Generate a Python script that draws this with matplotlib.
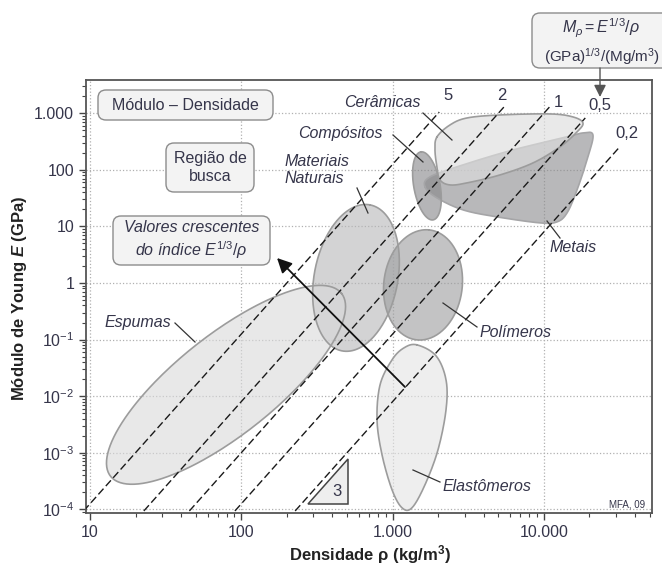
import numpy as np
import matplotlib
matplotlib.use('Agg')
import matplotlib.pyplot as plt
from matplotlib.patches import FancyBboxPatch, Polygon
from matplotlib.ticker import LogLocator, NullFormatter

plt.rcParams['font.family'] = ['Liberation Sans', 'DejaVu Sans']
plt.rcParams['mathtext.fontset'] = 'custom'
plt.rcParams['mathtext.rm'] = 'Liberation Sans'
plt.rcParams['mathtext.it'] = 'Liberation Sans:italic'
plt.rcParams['mathtext.bf'] = 'Liberation Sans:bold'
plt.rcParams['mathtext.bfit'] = 'Liberation Sans:italic:bold'

# ----------------------------------------------------------------
#  Data
# ----------------------------------------------------------------
# guide lines  M = E^(1/3)/rho  ->  E = (M*rho/1000)^3   (E in GPa, rho in kg/m3)
index_values = [5, 2, 1, 0.5, 0.2]
index_labels = ['5', '2', '1', '0,5', '0,2']
line_top_E = [1050, 1290, 1290, 826, 254]      # where each dashed line stops

x_ticks = [10, 100, 1000, 10000]
x_ticklabels = ['10', '100', '1.000', '10.000']
y_ticks = [1e-4, 1e-3, 1e-2, 1e-1, 1, 10, 100, 1000]
y_ticklabels = ['$10^{-4}$', '$10^{-3}$', '$10^{-2}$', '$10^{-1}$',
                '1', '10', '100', '1.000']

# elliptical families: centre (log10 rho, log10 E) and two conjugate
# semi-axes (in decades)
espumas_c = (1.899, -1.800)
espumas_u = (0.763, 1.617)
espumas_v = (0.205, -0.689)

naturais_c = (2.758, 0.090)
naturais_u = (0.093, 1.290)
naturais_v = (0.271, -0.141)

polimeros_c = (3.201, -0.034)
polimeros_u = (0.040, 0.972)
polimeros_v = (0.258, -0.071)

compositos_c = (3.227, 1.716)
compositos_u = (-0.040, 0.601)
compositos_v = (0.086, 0.035)

# irregular families: outline (log10 rho, log10 E)
elast_lrho = [3.161, 3.287, 3.353, 3.353, 3.300, 3.214, 3.128,
              3.062, 2.996, 2.930, 2.897, 2.917, 2.996, 3.075]
elast_lE = [-1.094, -1.288, -1.712, -2.242, -2.949, -3.567, -3.974,
            -3.974, -3.655, -3.037, -2.419, -1.800, -1.359, -1.147]

ceram_lrho = [3.293, 3.379, 3.492, 3.710, 4.040, 4.192, 4.258, 4.219,
              4.106, 3.928, 3.710, 3.492, 3.379, 3.313, 3.293, 3.280]
ceram_lE = [2.581, 2.793, 2.917, 2.970, 2.988, 2.935, 2.829, 2.670,
            2.405, 2.122, 1.910, 1.769, 1.733, 1.822, 2.051, 2.352]

metal_lrho = [3.214, 3.247, 3.465, 3.796, 4.126, 4.258, 4.324, 4.291,
              4.219, 4.153, 4.087, 3.974, 3.690, 3.465, 3.293]
metal_lE = [1.698, 1.875, 2.087, 2.352, 2.564, 2.652, 2.617, 2.228,
            1.645, 1.239, 1.080, 1.062, 1.168, 1.292, 1.504]

# slope triangle (slope 3)
tri_rho = [276, 507]
tri_E_base = 1.25e-4


# ----------------------------------------------------------------
#  Helpers
# ----------------------------------------------------------------
def ellipse_pts(c, u, v, n=240):
    t = np.linspace(0, 2 * np.pi, n)
    lx = c[0] + u[0] * np.cos(t) + v[0] * np.sin(t)
    ly = c[1] + u[1] * np.cos(t) + v[1] * np.sin(t)
    return 10 ** lx, 10 ** ly


def closed_spline(lx, ly, n=24):
    """Closed Catmull-Rom outline through the given log-space points."""
    P = np.column_stack([lx, ly])
    k = len(P)
    t = np.linspace(0, 1, n, endpoint=False)[:, None]
    segs = []
    for i in range(k):
        p0, p1, p2, p3 = P[i - 1], P[i], P[(i + 1) % k], P[(i + 2) % k]
        seg = 0.5 * (2 * p1 + (-p0 + p2) * t
                     + (2 * p0 - 5 * p1 + 4 * p2 - p3) * t ** 2
                     + (-p0 + 3 * p1 - 3 * p2 + p3) * t ** 3)
        segs.append(seg)
    out = np.vstack(segs + [segs[0][:1]])
    return 10 ** out[:, 0], 10 ** out[:, 1]


def bubble(ax, x, y, face, edge='#9c9c9c', alpha=0.6, z=2):
    ax.fill(x, y, facecolor=face, edgecolor='none', alpha=alpha, zorder=z)
    ax.plot(x, y, color=edge, lw=1.2, zorder=z + 0.1)


# ----------------------------------------------------------------
#  Figure
# ----------------------------------------------------------------
fig = plt.figure(figsize=(6.62, 5.68), dpi=100)
ax = fig.add_axes([86 / 662, 1 - 512.7 / 568, 566 / 662, 432.7 / 568])
ax.set_xscale('log')
ax.set_yscale('log')
ax.set_xlim(9.41, 51800)
ax.set_ylim(8.7e-5, 3870)

text_c = '#35354a'

# families
bubble(ax, *closed_spline(metal_lrho, metal_lE), face='#8a8a8c', edge='#a5a5a7')
bubble(ax, *ellipse_pts(compositos_c, compositos_u, compositos_v), face='#858587')
bubble(ax, *closed_spline(ceram_lrho, ceram_lE), face='#dedede', alpha=0.65, z=3)
bubble(ax, *ellipse_pts(naturais_c, naturais_u, naturais_v), face='#b6b6b8')
bubble(ax, *ellipse_pts(polimeros_c, polimeros_u, polimeros_v), face='#9b9c9e')
bubble(ax, *ellipse_pts(espumas_c, espumas_u, espumas_v), face='#d9d9da')
bubble(ax, *closed_spline(elast_lrho, elast_lE), face='#e4e4e4')

# dashed guide lines
for M, lab, Etop in zip(index_values, index_labels, line_top_E):
    rho_top = 1000 * Etop ** (1 / 3) / M
    rho = np.array([1.0, rho_top])
    ax.plot(rho, (M * rho / 1000) ** 3, color='#1a1a1a', lw=1.0,
            dashes=(5.5, 2.5), zorder=5)

label_pos = [(0.6396, 0.9653), (0.735, 0.9653), (0.834, 0.949),
             (0.908, 0.942), (0.956, 0.8775)]
for lab, (fx, fy) in zip(index_labels, label_pos):
    ax.text(fx, fy, lab, transform=ax.transAxes, fontsize=12,
            ha='center', va='center', color=text_c, zorder=6)

# slope triangle
tri_top = tri_E_base * (tri_rho[1] / tri_rho[0]) ** 3
ax.add_patch(Polygon([(tri_rho[0], tri_E_base), (tri_rho[1], tri_E_base),
                      (tri_rho[1], tri_top)], closed=True,
                     facecolor='#eeeeee', edgecolor='#444444', lw=1.1, zorder=4))
ax.text(0.4435, 0.050, '3', transform=ax.transAxes, fontsize=12,
        ha='center', va='center', color=text_c, zorder=6)

# family labels with leader lines
fam_labels = [
    ('Cerâmicas', (0.523, 0.947), (0.5954, 0.9237), (0.6466, 0.8613)),
    ('Compósitos', (0.449, 0.8775), (0.5424, 0.8729), (0.5954, 0.8105)),
    ('Espumas', (0.092, 0.4407), (0.1572, 0.4384), (0.1926, 0.3945)),
    ('Polímeros', (0.758, 0.4176), (0.6307, 0.4846), (0.6908, 0.4292)),
    ('Metais', (0.860, 0.614), (0.8145, 0.6741), (0.8375, 0.6348)),
    ('Elastômeros', (0.7085, 0.0594), (0.5777, 0.0987), (0.6254, 0.0709)),
]
for name, (tx, ty), p0, p1 in fam_labels:
    ax.text(tx, ty, name, transform=ax.transAxes, fontsize=11.5,
            style='italic', ha='center', va='center', color=text_c, zorder=7)
    ax.plot([p0[0], p1[0]], [p0[1], p1[1]], transform=ax.transAxes,
            color='#333333', lw=0.9, zorder=7)

ax.text(0.350, 0.792, 'Materiais\nNaturais', transform=ax.transAxes,
        fontsize=11.5, style='italic', ha='left', va='center',
        linespacing=1.2, color=text_c, zorder=7)
ax.plot([0.4788, 0.4982], [0.7504, 0.6926], transform=ax.transAxes,
        color='#333333', lw=0.9, zorder=7)

ax.text(0.956, 0.020, 'MFA, 09', transform=ax.transAxes, fontsize=7,
        ha='center', va='center', color=text_c, zorder=7)

# direction arrow
ax.annotate('', xy=(0.3375, 0.5886), xytext=(0.5636, 0.2905),
            xycoords='axes fraction', textcoords='axes fraction',
            arrowprops=dict(arrowstyle='-|>', color='#111111', lw=1.3,
                            mutation_scale=22, shrinkA=0, shrinkB=0),
            zorder=8)

# axes cosmetics
ax.set_xticks(x_ticks)
ax.set_xticklabels(x_ticklabels)
ax.set_yticks(y_ticks)
ax.set_yticklabels(y_ticklabels)
ax.xaxis.set_minor_locator(LogLocator(base=10, subs=np.arange(2, 10), numticks=100))
ax.yaxis.set_minor_locator(LogLocator(base=10, subs=np.arange(2, 10), numticks=100))
ax.xaxis.set_minor_formatter(NullFormatter())
ax.yaxis.set_minor_formatter(NullFormatter())
ax.tick_params(which='major', direction='out', length=5, width=1.0,
               color='#444444', labelcolor=text_c, labelsize=11.5)
ax.tick_params(which='minor', direction='out', length=3, width=0.8,
               color='#444444')
ax.grid(True, which='major', linestyle=':', color='#b0b0b0', lw=0.9, zorder=0)
ax.set_axisbelow(True)
for sp in ax.spines.values():
    sp.set_color('#555555')
    sp.set_linewidth(1.3)

ax.set_xlabel('Densidade ρ (kg/m$^\\mathbf{3}$)', fontsize=12,
              fontweight='bold', color='#222222')
ax.xaxis.set_label_coords(0.502, -0.070)
ax.set_ylabel('Módulo de Young $\\mathbfit{E}$ (GPa)', fontsize=12,
              fontweight='bold', color='#222222')
ax.yaxis.set_label_coords(-0.100, 0.495)

# ----------------------------------------------------------------
#  Boxes (figure inches)
# ----------------------------------------------------------------
inch = fig.dpi_scale_trans
box_kw = dict(boxstyle='round,pad=0,rounding_size=0.08', facecolor='#f3f3f3',
              edgecolor='#8c8c8c', lw=1.0, transform=inch, zorder=10)

boxes = [
    ((0.98, 4.48, 1.75, 0.30), (1.855, 4.63), 'Módulo – Densidade', 'normal'),
    ((1.66, 3.76, 0.88, 0.49), (2.10, 4.005), 'Região de\nbusca', 'normal'),
    ((1.13, 3.03, 1.57, 0.49), (1.915, 3.275),
     'Valores crescentes\ndo índice $E^{1/3}/\\rho$', 'italic'),
]
for (x0, y0, w, h), (tx, ty), s, st in boxes:
    p = FancyBboxPatch((x0, y0), w, h, **box_kw)
    fig.add_artist(p)
    fig.text(tx, ty, s, transform=inch, fontsize=11.5, style=st,
             ha='center', va='center', linespacing=1.25, color=text_c,
             zorder=11)

p = FancyBboxPatch((5.32, 5.00), 1.5, 0.55, **box_kw)
fig.add_artist(p)
fig.text(6.01, 5.40, '$M_\\rho = E^{1/3}/\\rho$', transform=inch,
         fontsize=11.5, ha='center', va='center', color=text_c, zorder=11)
fig.text(6.02, 5.11, '(GPa)$^{1/3}$/(Mg/m$^3$)', transform=inch,
         fontsize=11, ha='center', va='center', color=text_c, zorder=11)
arr = fig.add_artist(matplotlib.patches.FancyArrowPatch(
    (6.00, 5.00), (6.00, 4.71), transform=inch, arrowstyle='-|>',
    mutation_scale=18, color='#555555', lw=1.0, shrinkA=0, shrinkB=0,
    zorder=12))

fig.savefig('out.png', dpi=100)
